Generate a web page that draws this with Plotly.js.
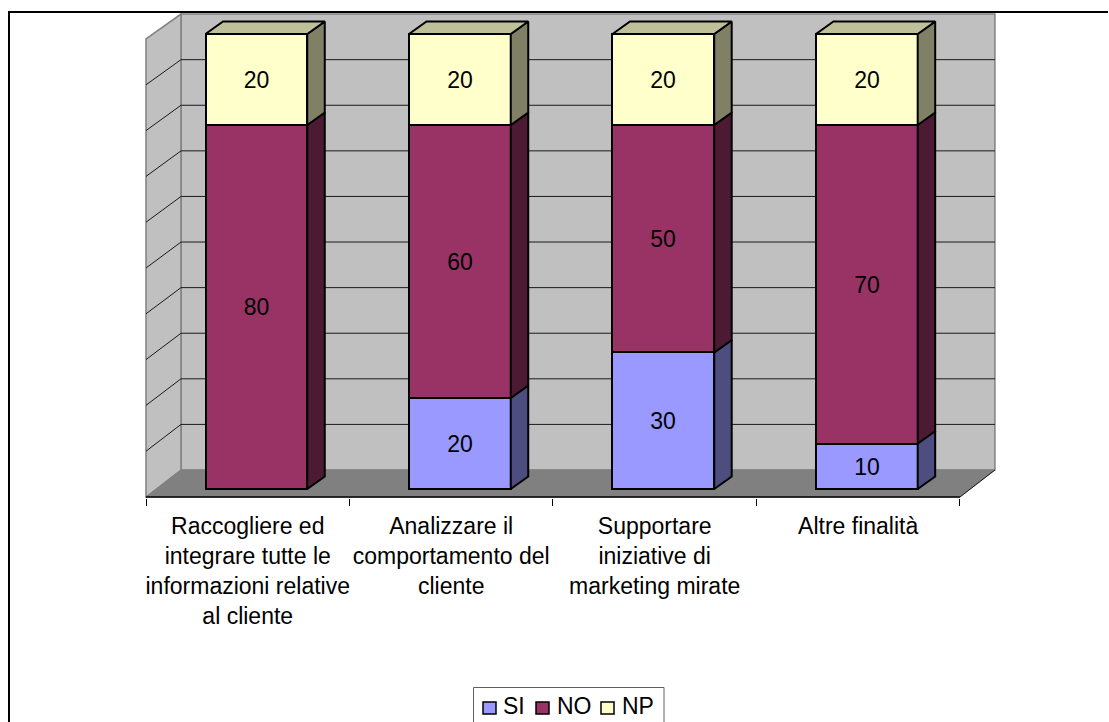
<!DOCTYPE html>
<html>
<head>
<meta charset="utf-8">
<script src="https://cdn.plot.ly/plotly-3.0.1.min.js"></script>
<style>
html,body{margin:0;padding:0;background:#fff;overflow:hidden}
#chart{position:absolute;left:0;top:0;width:1109px;height:722px}
#frame{position:absolute;left:8px;top:11px;width:1100px;height:711px;border-top:2px solid #000;border-left:2px solid #000;box-sizing:border-box;pointer-events:none}
</style>
</head>
<body>
<div id="chart"></div>
<div id="frame"></div>
<script>
var categories = [
  'Raccogliere ed<br>integrare tutte le<br>informazioni relative<br>al cliente',
  'Analizzare il<br>comportamento del<br>cliente',
  'Supportare<br>iniziative di<br>marketing mirate',
  'Altre finalità'
];
var si = [0, 20, 30, 10];
var no = [80, 60, 50, 70];
var np = [20, 20, 20, 20];
var gridValues = [10, 20, 30, 40, 50, 60, 70, 80, 90];

var seriesNames = ['SI', 'NO', 'NP'];
var seriesValues = [si, no, np];
var frontColors = ['#9999FF', '#993366', '#FFFFCC'];
var sideColors = ['#4D4D80', '#4D1A33', '#808066'];
var topColor = '#BFBF99';

// 3D projection settings, in axis units
var barWidth = 0.5, barShift = 0.5425;
var barDepthX = 0.086, barDepthY = 2.75;
var wallDepthX = 0.172;
var edgeWidth = 2;
var frontY = function (v) { return -1.758 + 1.0066 * v; };
var backY = function (v) { return 4.176 + 1.002 * v; };

var tickPositions = categories.map(function (c, i) { return i + 0.5; });
var barPositions = categories.map(function (c, i) { return i + barShift; });

var margin = { l: 140, r: 109, t: 10, b: 224 };
var plotW = 1109 - margin.l - margin.r, plotH = 722 - margin.t - margin.b;
var paperX = function (px) { return (px - margin.l) / plotW; };
var paperY = function (py) { return (722 - margin.b - py) / plotH; };

function poly(points) {
  return points.map(function (p, i) { return (i ? 'L' : 'M') + p[0] + ',' + p[1]; }).join(' ') + ' Z';
}
function shape(path, fill, color, width) {
  return { type: 'path', xref: 'x', yref: 'y', layer: 'below', path: path, fillcolor: fill,
           line: { color: color, width: width } };
}
function seg(a, b, color, width) {
  return { type: 'line', xref: 'x', yref: 'y', layer: 'below', x0: a[0], y0: a[1], x1: b[0], y1: b[1],
           line: { color: color, width: width } };
}

var shapes = [
  shape(poly([[wallDepthX, backY(0)], [wallDepthX, backY(100)], [4 + wallDepthX, backY(100)], [4 + wallDepthX, backY(0)]]), '#C0C0C0', '#808080', 1.5),
  shape(poly([[0, frontY(0)], [0, frontY(100)], [wallDepthX, backY(100)], [wallDepthX, backY(0)]]), '#C0C0C0', '#808080', 1.5),
  shape(poly([[0, frontY(0)], [wallDepthX, backY(0)], [4 + wallDepthX, backY(0)], [4, frontY(0)]]), '#808080', '#808080', 1)
];
gridValues.forEach(function (v) {
  shapes.push(seg([wallDepthX, backY(v)], [4 + wallDepthX, backY(v)], '#1a1a1a', 1));
  shapes.push(seg([0, frontY(v)], [wallDepthX, backY(v)], '#1a1a1a', 1));
});
shapes.push(seg([4, frontY(0)], [4 + wallDepthX, backY(0)], '#1a1a1a', 1));

// legend: box, swatches and real text
var legendSwatchLeft = [483, 536, 601];
var legendTextLeft = [501, 555, 620];
var annotations = [];
shapes.push({ type: 'rect', xref: 'paper', yref: 'paper', layer: 'above',
  x0: paperX(473.5), x1: paperX(664), y0: paperY(725), y1: paperY(687.5),
  fillcolor: '#fff', line: { color: '#606060', width: 1 } });
seriesNames.forEach(function (name, s) {
  shapes.push({ type: 'rect', xref: 'paper', yref: 'paper', layer: 'above',
    x0: paperX(legendSwatchLeft[s]), x1: paperX(legendSwatchLeft[s] + 13),
    y0: paperY(714), y1: paperY(702),
    fillcolor: frontColors[s], line: { color: '#000', width: 1.5 } });
  annotations.push({ xref: 'paper', yref: 'paper', x: paperX(legendTextLeft[s]), y: paperY(706),
    xanchor: 'left', yanchor: 'middle', showarrow: false, text: name,
    font: { family: 'Liberation Sans, Arial, sans-serif', size: 23, color: '#000' } });
});

var traces = [];
seriesNames.forEach(function (name, s) {
  traces.push({
    type: 'bar', name: name, x: barPositions, y: seriesValues[s], width: barWidth,
    marker: { color: frontColors[s], line: { color: '#000', width: edgeWidth } },
    text: seriesValues[s].map(function (v) { return v > 0 ? String(v) : ''; }),
    textposition: 'inside', insidetextanchor: 'middle', textangle: 0, constraintext: 'none',
    insidetextfont: { family: 'Liberation Sans, Arial, sans-serif', size: 23, color: '#000' },
    hoverinfo: 'name+y'
  });
});

// side faces and top faces follow the stacked data
var stacks = categories.map(function () { return 0; });
seriesNames.forEach(function (name, s) {
  var xs = [], ys = [];
  seriesValues[s].forEach(function (v, i) {
    var y0 = stacks[i], y1 = y0 + v, r = barPositions[i] + barWidth / 2;
    stacks[i] = y1;
    if (v <= 0) return;
    xs.push(r, r + barDepthX, r + barDepthX, r, r, null);
    ys.push(y0, y0 + barDepthY, y1 + barDepthY, y1, y0, null);
  });
  traces.push({ type: 'scatter', mode: 'lines', x: xs, y: ys, fill: 'toself', fillcolor: sideColors[s],
    line: { color: '#000', width: edgeWidth }, showlegend: false, hoverinfo: 'skip' });
});
var tx = [], ty = [];
stacks.forEach(function (h, i) {
  var l = barPositions[i] - barWidth / 2, r = barPositions[i] + barWidth / 2;
  tx.push(l, l + barDepthX, r + barDepthX, r, l, null);
  ty.push(h, h + barDepthY, h + barDepthY, h, h, null);
});
traces.push({ type: 'scatter', mode: 'lines', x: tx, y: ty, fill: 'toself', fillcolor: topColor,
  line: { color: '#000', width: edgeWidth }, showlegend: false, hoverinfo: 'skip' });
traces.push({ type: 'scatter', mode: 'lines', x: [0, 4], y: [frontY(0), frontY(0)], cliponaxis: false,
  line: { color: '#000', width: 1.5 }, showlegend: false, hoverinfo: 'skip' });

var layout = {
  width: 1109, height: 722,
  margin: { l: margin.l, r: margin.r, t: margin.t, b: margin.b, pad: 0, autoexpand: false },
  paper_bgcolor: '#fff', plot_bgcolor: '#fff',
  barmode: 'stack', bargap: 0,
  font: { family: 'Liberation Sans, Arial, sans-serif', size: 23, color: '#000' },
  showlegend: false,
  xaxis: { type: 'linear', range: [-0.0295, 4.197], showgrid: false, zeroline: false, showline: false,
    tickmode: 'array', tickvals: tickPositions, ticktext: categories, ticks: '', ticklabelstandoff: 12, tickangle: 0,
    minor: { tickmode: 'array', tickvals: [0, 1, 2, 3, 4], ticks: 'outside', ticklen: 7, tickcolor: '#000', tickwidth: 1, showgrid: false } },
  yaxis: { range: [-1.978, 105.27], showgrid: false, zeroline: false, showline: false, showticklabels: false, ticks: '' },
  shapes: shapes,
  annotations: annotations
};
Plotly.newPlot('chart', traces, layout, { displayModeBar: false, responsive: false });
</script>
</body>
</html>
